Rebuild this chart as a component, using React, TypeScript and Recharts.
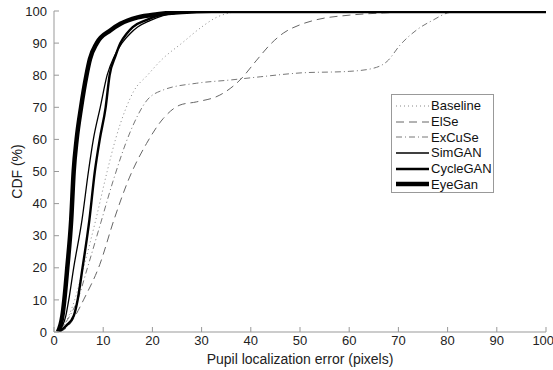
import { LineChart, Line, XAxis, YAxis } from "recharts";

const TICKS = [0, 10, 20, 30, 40, 50, 60, 70, 80, 90, 100];

// [error (px), CDF (%)]
const BASELINE: [number, number][] = [
  [0.9, 0], [3.0, 5], [4.2, 10], [6.0, 20], [8.5, 35], [10.8, 50], [12.5, 60], [14.7, 70],
  [16.2, 75], [19, 80], [22, 85], [26, 90], [30, 95], [33, 98], [36, 99.5], [39, 100], [100, 100],
];
const ELSE: [number, number][] = [
  [1.0, 0], [3, 2], [4.3, 5], [6.0, 10], [9.3, 21], [12.2, 35], [15.3, 48], [18.8, 58.7],
  [22.2, 66.5], [25.6, 70.7], [29, 71.7], [33.7, 73.8], [37.8, 78.5], [41.2, 84.7], [43.9, 89.5],
  [46.6, 93.1], [50, 95.7], [53.4, 97.3], [60, 98.7], [67, 99.4], [78, 100], [100, 100],
];
const EXCUSE: [number, number][] = [
  [0.9, 0], [3.2, 5], [4.8, 10], [6.8, 20], [9.5, 34], [12, 47], [15.4, 62], [18.8, 72],
  [22.2, 75.4], [29, 77.5], [35.8, 78.5], [41.9, 79.5], [50, 80.7], [60, 81.2], [65, 82.2],
  [67.7, 84.3], [70.4, 89.5], [73.8, 94.2], [77.2, 97.3], [80, 99.4], [83, 100], [100, 100],
];
const SIMGAN: [number, number][] = [
  [0.9, 0], [2.4, 5], [3.0, 10], [4.0, 20], [5.7, 35], [7.0, 50], [8.0, 60], [9.4, 70],
  [10.8, 80], [12.3, 86], [13.8, 90], [15.5, 93], [17, 95], [19.5, 97], [22, 98.5], [26, 99.5],
  [32, 100], [100, 100],
];
const CYCLEGAN: [number, number][] = [
  [1.0, 0], [2.5, 2], [4.0, 5], [4.8, 10], [5.8, 20], [7.2, 35], [8.3, 50], [9.3, 60], [10.5, 70],
  [11.3, 80], [12.5, 86], [13.5, 90], [14.8, 93], [16, 95], [18.5, 97], [21, 98.5], [25, 99.5],
  [30, 100], [100, 100],
];
const EYEGAN: [number, number][] = [
  [0.8, 0], [1.7, 5], [2.1, 10], [2.7, 20], [3.5, 35], [4.0, 50], [4.6, 60], [5.5, 70],
  [6.6, 80], [7.3, 85], [8.7, 90], [11.5, 94], [13.5, 96], [17, 98], [21, 99], [26, 99.7],
  [32, 100], [100, 100],
];

const SERIES = [
  { name: "Baseline", pts: BASELINE, color: "#888", width: 1, dash: "1 3" },
  { name: "ElSe", pts: ELSE, color: "#666", width: 1, dash: "8 5" },
  { name: "ExCuSe", pts: EXCUSE, color: "#777", width: 1, dash: "6 3 1 3" },
  { name: "SimGAN", pts: SIMGAN, color: "#000", width: 1.3, dash: undefined },
  { name: "CycleGAN", pts: CYCLEGAN, color: "#000", width: 2.4, dash: undefined },
  { name: "EyeGan", pts: EYEGAN, color: "#000", width: 4.5, dash: undefined },
];

const FONT = "'Liberation Sans', Arial, sans-serif";
const AXIS = "#999";

function LegendBox() {
  return (
    <div
      style={{
        position: "absolute",
        left: 391,
        top: 94,
        width: 103,
        height: 99,
        border: "1px solid #999",
        background: "#fff",
        fontFamily: FONT,
        fontSize: 13,
        color: "#111",
        paddingTop: 3,
        boxSizing: "border-box",
      }}
    >
      {SERIES.map((s) => (
        <div key={s.name} style={{ display: "flex", alignItems: "center", height: 15.7 }}>
          <svg width={37} height={10} style={{ marginLeft: 3 }}>
            <line x1={1} y1={5} x2={34} y2={5} stroke={s.color} strokeWidth={s.width} strokeDasharray={s.dash} />
          </svg>
          <span style={{ marginLeft: -1 }}>{s.name}</span>
        </div>
      ))}
    </div>
  );
}

export default function App() {
  return (
    <div style={{ position: "absolute", left: 0, top: 0, width: 553, height: 370, background: "#fff" }}>
      <LineChart width={553} height={370} margin={{ top: 11, right: 7, left: 0, bottom: 0 }}>
        <XAxis
          type="number"
          dataKey="x"
          domain={[0, 100]}
          ticks={TICKS}
          allowDataOverflow
          height={38}
          tickSize={-5}
          tickMargin={9}
          stroke={AXIS}
          tick={{ fill: "#222", fontSize: 13, fontFamily: FONT }}
          label={{ value: "Pupil localization error (pixels)", position: "insideBottom", offset: 6, fill: "#222", fontSize: 14, fontFamily: FONT }}
        />
        <XAxis xAxisId="top" orientation="top" type="number" domain={[0, 100]} ticks={TICKS} allowDataOverflow height={0} tickSize={-5} tick={false} stroke={AXIS} />
        <YAxis
          type="number"
          domain={[0, 100]}
          ticks={TICKS}
          allowDataOverflow
          width={54}
          tickSize={-5}
          tickMargin={12}
          stroke={AXIS}
          tick={{ fill: "#222", fontSize: 13, fontFamily: FONT }}
          label={{
            content: (props: any) => {
              const vb = props.viewBox || { x: 0, y: 11, height: 321 };
              const cx = 17;
              const cy = vb.y + vb.height / 2;
              return (
                <text x={cx} y={cy} transform={`rotate(-90 ${cx} ${cy})`} textAnchor="middle" dominantBaseline="central" fill="#222" fontSize={14} fontFamily={FONT}>
                  CDF (%)
                </text>
              );
            },
          }}
        />
        <YAxis yAxisId="right" orientation="right" type="number" domain={[0, 100]} ticks={TICKS} allowDataOverflow width={0} tickSize={-5} tick={false} stroke={AXIS} />
        {SERIES.map((s) => (
          <Line
            key={s.name}
            name={s.name}
            data={s.pts.map(([x, y]) => ({ x, y }))}
            dataKey="y"
            type="monotone"
            stroke={s.color}
            strokeWidth={s.width}
            strokeDasharray={s.dash}
            dot={false}
            activeDot={false}
            isAnimationActive={false}
          />
        ))}
      </LineChart>
      <LegendBox />
    </div>
  );
}
